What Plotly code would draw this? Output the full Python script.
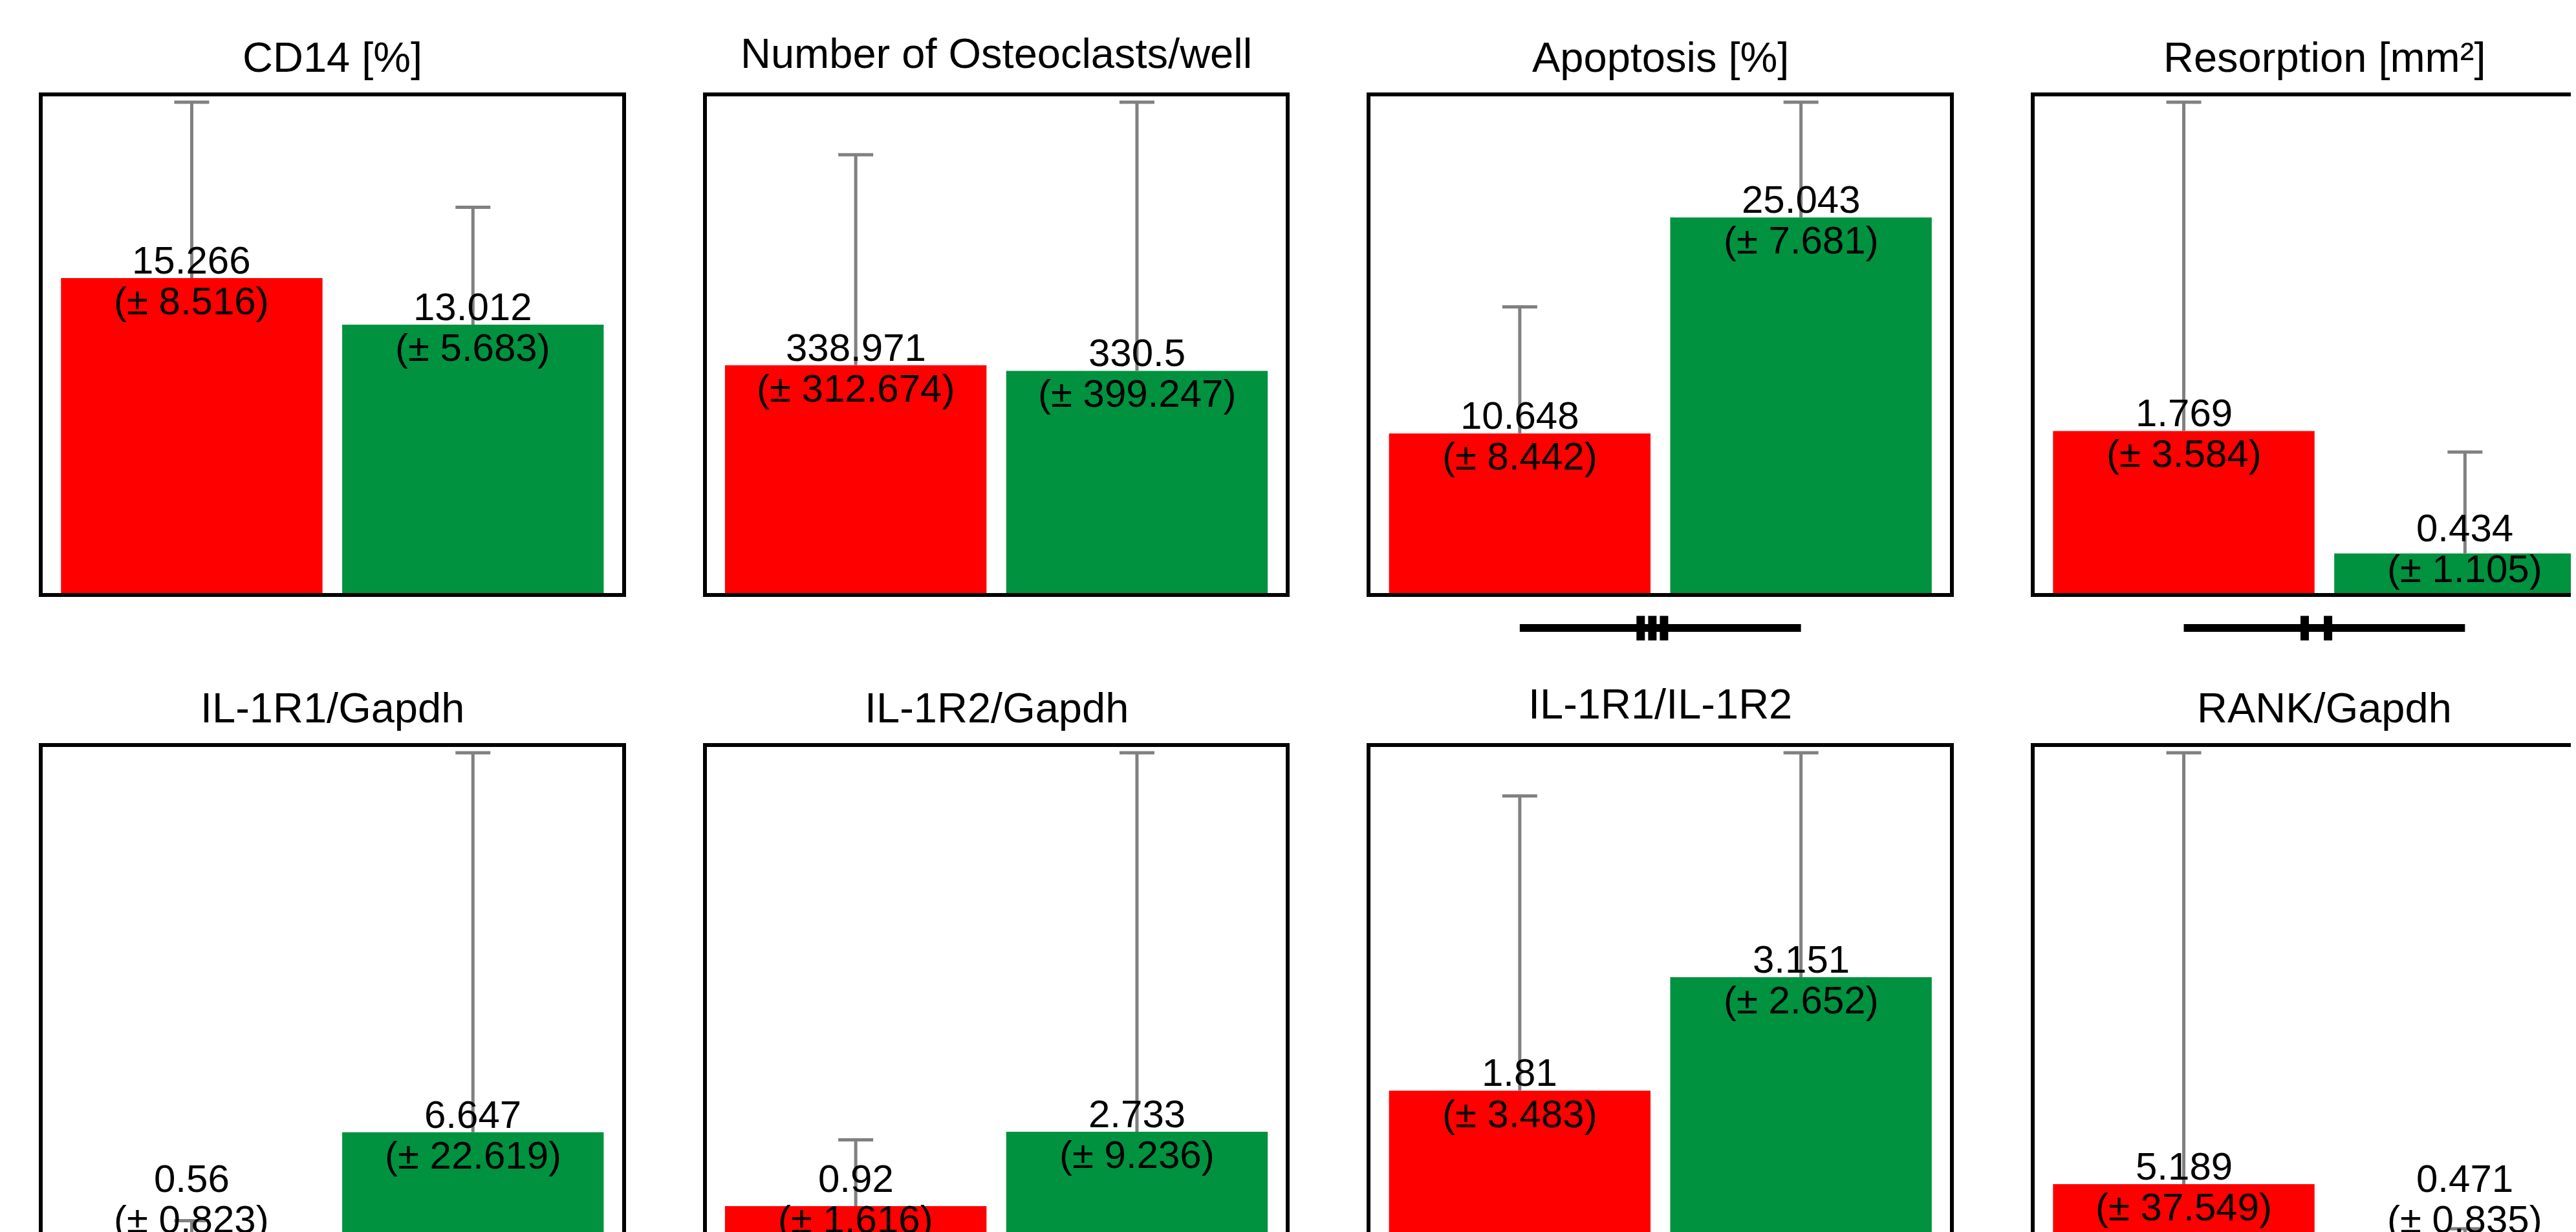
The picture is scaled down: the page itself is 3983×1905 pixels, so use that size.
import plotly.graph_objects as go

# ---------------- data ----------------
titles = ["CD14 [%]", "Number of Osteoclasts/well", "Apoptosis [%]", "Resorption [mm²]",
          "IL-1R1/Gapdh", "IL-1R2/Gapdh", "IL-1R1/IL-1R2", "RANK/Gapdh"]
group_a_mean = [15.266, 338.971, 10.648, 1.769, 0.56, 0.92, 1.81, 5.189]
group_a_sd = [8.516, 312.674, 8.442, 3.584, 0.823, 1.616, 3.483, 37.549]
group_b_mean = [13.012, 330.5, 25.043, 0.434, 6.647, 2.733, 3.151, 0.471]
group_b_sd = [5.683, 399.247, 7.681, 1.105, 22.619, 9.236, 2.652, 0.835]
significance_marks = [0, 0, 3, 2, 0, 0, 0, 0]

# ---------------- style / layout ----------------
RED = "#FF0000"
GREEN = "#00923F"
GRAY = "#808080"
FONT = "Liberation Sans, Arial, sans-serif"

W, H = 4100, 1990
PAD = 8                      # page body margin
COL_X0, COL_STEP, PLOT_W = 66 - PAD, 1026.7, 895.7
ROW_Y0, ROW_STEP, PLOT_H = 149 - PAD, 1006.0, 768.3
XR = [-0.53, 1.53]
BAR_W = 0.93
CAP_PX = 27

fig = go.Figure()
annotations = []
shapes = []

for k, title in enumerate(titles):
    n = k + 1
    i, j = k % 4, k // 4
    x0 = COL_X0 + COL_STEP * i
    y0 = ROW_Y0 + ROW_STEP * j
    xd = [x0 / W, (x0 + PLOT_W) / W]
    yd = [1 - (y0 + PLOT_H) / H, 1 - y0 / H]
    means = [group_a_mean[k], group_b_mean[k]]
    sds = [group_a_sd[k], group_b_sd[k]]
    ymax = max(m + s for m, s in zip(means, sds)) * 1.012

    axstyle = dict(showline=True, mirror=True, linewidth=6, linecolor="black",
                   showgrid=False, zeroline=False, showticklabels=False, ticks="",
                   fixedrange=True)
    xname = "xaxis" if n == 1 else f"xaxis{n}"
    yname = "yaxis" if n == 1 else f"yaxis{n}"
    xa = "x" if n == 1 else f"x{n}"
    ya = "y" if n == 1 else f"y{n}"
    fig.update_layout({
        xname: dict(domain=xd, range=XR, anchor=ya, **axstyle),
        yname: dict(domain=yd, range=[0, ymax], anchor=xa, **axstyle),
    })

    fig.add_trace(go.Bar(x=[0, 1], y=means, width=BAR_W,
                         marker=dict(color=[RED, GREEN], line=dict(width=0)),
                         xaxis=xa, yaxis=ya, hoverinfo="skip"))

    # error whiskers (upper only)
    c = CAP_PX * (XR[1] - XR[0]) / PLOT_W
    ex, ey = [], []
    for xi, (m, s) in enumerate(zip(means, sds)):
        ex += [xi, xi, None, xi - c, xi + c, None]
        ey += [m, m + s, None, m + s, m + s, None]
    fig.add_trace(go.Scatter(x=ex, y=ey, mode="lines",
                             line=dict(color=GRAY, width=5),
                             xaxis=xa, yaxis=ya, hoverinfo="skip"))

    # value labels
    for xi, (m, s) in enumerate(zip(means, sds)):
        ypos = max(m, 0.095 * ymax)
        annotations.append(dict(x=xi, y=ypos, xref=xa, yref=ya, text=str(m),
                                showarrow=False, yanchor="middle", yshift=27.6,
                                font=dict(family=FONT, size=60, color="black")))
        annotations.append(dict(x=xi, y=ypos, xref=xa, yref=ya, text=f"(± {s})",
                                showarrow=False, yanchor="middle", yshift=-35.5,
                                font=dict(family=FONT, size=60, color="black")))

    # panel title
    has_desc = any(ch in title for ch in "gpqyj[]")
    annotations.append(dict(x=0.5, y=1, xref=f"{xa} domain", yref=f"{ya} domain",
                            text=title, showarrow=False, yanchor="bottom",
                            yshift=22 if has_desc else 28,
                            font=dict(family=FONT, size=65, color="black")))

    # significance indicator below the panel
    nm = significance_marks[k]
    if nm:
        def fx(v):
            return (v - XR[0]) / (XR[1] - XR[0])
        yline = -53.7 / PLOT_H
        shapes.append(dict(type="line", xref=f"{xa} domain", yref=f"{ya} domain",
                           x0=fx(0), x1=fx(1), y0=yline, y1=yline,
                           line=dict(color="black", width=12)))
        mw = 13 / PLOT_W / 2
        for q in range(nm):
            xc = 0.43 + (0.513 - 0.43) * q / (nm - 1)
            shapes.append(dict(type="rect", xref=f"{xa} domain", yref=f"{ya} domain",
                               x0=fx(xc) - mw, x1=fx(xc) + mw,
                               y0=-73 / PLOT_H, y1=-35 / PLOT_H,
                               fillcolor="black", line=dict(width=0)))

fig.update_layout(width=W, height=H, autosize=False,
                  margin=dict(l=0, r=0, t=0, b=0),
                  paper_bgcolor="white", plot_bgcolor="white",
                  showlegend=False, barmode="overlay",
                  annotations=annotations, shapes=shapes,
                  font=dict(family=FONT))

fig.write_html("out.html", config={"displayModeBar": False})
